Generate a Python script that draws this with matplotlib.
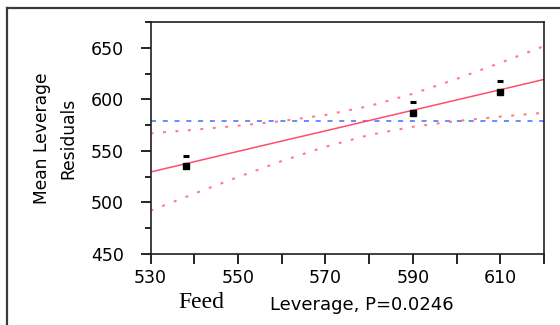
import numpy as np
import matplotlib
matplotlib.use('Agg')
import matplotlib.pyplot as plt
from matplotlib.lines import Line2D

# Datos (leverage plot)
feed_pts = [538, 538, 590, 590, 610, 610]
resid_pts = [545.3, 535.5, 597.8, 586.8, 617.6, 607.4]
marca_pts = ['_', 's', '_', 's', '_', 's']

feed_x = [530, 540, 550, 560, 570, 580, 590, 600, 610, 620]
ajuste = [529.5, 539.5, 549.5, 559.5, 569.4, 579.4, 589.4, 599.4, 609.3, 619.3]
banda_sup = [567.0, 570.5, 574.4, 578.9, 584.8, 593.4, 605.4, 619.8, 635.4, 651.6]
banda_inf = [492.0, 508.5, 524.6, 540.1, 554.0, 565.4, 573.4, 579.0, 583.2, 587.0]
media = 579.0

x_ticks = [530, 550, 570, 590, 610]
y_ticks = [450, 500, 550, 600, 650]

fig = plt.figure(figsize=(5.6, 3.25), dpi=100)
ax = fig.add_axes([0.2688, 0.2185, 0.7026, 0.7138])

rojo = '#ff4d6a'
rosa = '#ff7890'
azul = '#3f6cff'

ax.axhline(media, color=azul, lw=1.1, ls=(0, (3.3, 4.4)))
ax.plot(feed_x, banda_sup, color=rosa, lw=1.5, ls=(0, (1.4, 4.6)))
ax.plot(feed_x, banda_inf, color=rosa, lw=1.5, ls=(0, (1.4, 4.6)))
ax.plot(feed_x, ajuste, color=rojo, lw=1.1)

for x, y, m in zip(feed_pts, resid_pts, marca_pts):
    if m == 's':
        ax.plot(x, y, marker='s', ms=4.2, color='black', zorder=5)
    else:
        ax.plot(x, y, marker='_', ms=4.6, mew=2.2, color='black', zorder=5)

ax.set_xlim(530, 620)
ax.set_ylim(450, 675)
ax.set_xticks(x_ticks)
ax.set_xticks(np.arange(530, 621, 10), minor=True)
ax.set_yticks(y_ticks)
ax.set_yticks(np.arange(450, 676, 25), minor=True)
ax.tick_params(axis='x', which='both', direction='out', length=7, width=1.2, pad=4,
               labelsize=12.5, colors='black')
ax.tick_params(axis='y', which='major', direction='out', length=7, width=1.2, pad=12,
               labelsize=12.5)
ax.tick_params(axis='y', which='minor', direction='out', length=4.5, width=1.2)
for s in ax.spines.values():
    s.set_linewidth(1.2)
    s.set_color('#202020')

# etiqueta del eje y en dos lineas
fig.text(55 / 560, 1 - 138 / 325, 'Mean Leverage\nResiduals', rotation=90,
         ha='center', va='center', fontsize=12.3, multialignment='center',
         linespacing=1.6)

fig.text(201 / 560, 1 - 302 / 325, 'Feed', family='Liberation Serif',
         fontsize=17, ha='center', va='center')
fig.text(362 / 560, 1 - 305 / 325, 'Leverage, P=0.0246', fontsize=13,
         ha='center', va='center')

# marco exterior
fig.add_artist(Line2D([6.5 / 560, 6.5 / 560], [0, 1 - 8 / 325],
                      transform=fig.transFigure, color='#3a3a3a', lw=1.6))
fig.add_artist(Line2D([6.5 / 560, 1], [1 - 8 / 325, 1 - 8 / 325],
                      transform=fig.transFigure, color='#3a3a3a', lw=1.6))

fig.savefig('out.png', dpi=100)
